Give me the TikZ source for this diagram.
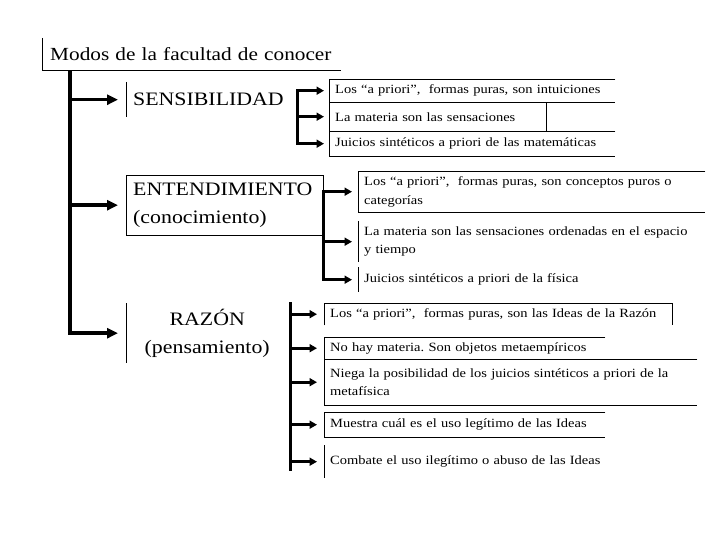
\documentclass[tikz,border=0pt]{standalone}
\usepackage{fontspec}
\setmainfont{Liberation Serif}[FakeStretch=1.15]
\usepackage{tikz}
\usetikzlibrary{calc,positioning,arrows.meta}
\frenchspacing

\tikzset{
  caja/.style={anchor=north west, inner xsep=6pt, inner ysep=0pt, align=left, font=\fontsize{12.6}{18.5}\selectfont},
  grande/.style={anchor=north west, inner xsep=7pt, inner ysep=0pt, font=\fontsize{19}{28}\selectfont},
  borde/.style={line width=0.8pt},
  tronco/.style={line width=3.6pt, -{Triangle[length=11pt,width=10pt]}, shorten >=8pt},
  flecha/.style={line width=2.8pt, -{Triangle[length=7.5pt,width=8pt]}},
  barra/.style={line width=3pt, line cap=rect},
}

\begin{document}
\begin{tikzpicture}[x=1pt,y=-1pt]
\useasboundingbox (0,0) rectangle (720,540);

% Title
\node[grande, inner xsep=8pt, align=left, text width=283pt, minimum height=32pt, font=\fontsize{18.5}{22}\selectfont] (titulo) at (42,38) {Modos de la facultad de conocer};
\draw[borde] (titulo.north west) -- (titulo.south west) -- (titulo.south east);

% Three faculties
\node[grande, align=left, text width=165pt, minimum height=35pt] (sens) at (126,82) {SENSIBILIDAD};
\node[grande, align=left, text width=183pt, minimum height=60pt] (ent) at (126,175) {ENTENDIMIENTO\\(conocimiento)};
\node[grande, align=center, text width=148pt, minimum height=60pt] (raz) at (126,303) {RAZÓN\\(pensamiento)};
\draw[borde] (sens.north west) -- (sens.south west);
\draw[borde] (ent.north west) rectangle (ent.south east);
\draw[borde] (raz.north west) -- (raz.south west);

% Main trunk
\coordinate (raiz) at ([xshift=28pt]titulo.south west);
\draw[tronco] (raiz) |- (raz.west);
\draw[tronco] (raiz |- sens.west) -- (sens.west);
\draw[tronco] (raiz |- ent.west) -- (ent.west);

% SENSIBILIDAD
\node[caja, text width=274pt, minimum height=23pt] (s1) at (329,79) {Los “a priori”, \ formas puras, son intuiciones};
\node[caja, text width=205pt, minimum height=29pt] (s2) at (329,102) {La materia son las sensaciones};
\node[caja, text width=274pt, minimum height=25pt] (s3) at (329,131) {Juicios sintéticos a priori de las matemáticas};

% ENTENDIMIENTO
\node[caja, text width=335pt, minimum height=41pt] (e1) at (358,171) {Los “a priori”, \ formas puras, son conceptos puros o\\categorías};
\node[caja, text width=335pt, minimum height=41pt] (e2) at (358,221) {La materia son las sensaciones ordenadas en el espacio\\y tiempo};
\node[caja, text width=250pt, minimum height=25pt] (e3) at (358,267) {Juicios sintéticos a priori de la física};

% RAZON
\node[caja, text width=336pt, minimum height=22pt] (r1) at (324,303) {Los “a priori”, \ formas puras, son las Ideas de la Razón};
\node[caja, text width=269pt, minimum height=22pt] (r2) at (324,337) {No hay materia. Son objetos metaempíricos};
\node[caja, text width=361pt, minimum height=46pt] (r3) at (324,359) {Niega la posibilidad de los juicios sintéticos a priori de la\\metafísica};
\node[caja, text width=269pt, minimum height=25pt] (r4) at (324,412) {Muestra cuál es el uso legítimo de las Ideas};
\node[caja, text width=275pt, minimum height=33pt] (r5) at (324,445) {Combate el uso ilegítimo o abuso de las Ideas};

% open borders of the boxes
\foreach \n in {s1,s3,e1,r2,r3,r4} {
    \draw[borde] (\n.north east) -- (\n.north west) -- (\n.south west) -- (\n.south east);
}
\foreach \n in {s2,r1} {
    \draw[borde] (\n.south west) -- (\n.north west) -- (\n.north east) -- (\n.south east);
}
\foreach \n in {e2,e3,r5} {
    \draw[borde] (\n.north west) -- (\n.south west);
}

% brackets
\coordinate (cs) at (297,0);
\coordinate (cr) at (290,0);
\draw[barra] (cs |- s1.west) -- (cs |- s3.west);
\draw[barra] (ent.east |- e1.west) -- (ent.east |- e3.west);
\draw[barra] (cr |- r1.north) -- ([yshift=-8pt]cr |- r5.west);
\foreach \n in {s1,s2,s3} {
    \draw[flecha, shorten >=5pt] (cs |- \n.west) -- (\n.west);
}
\foreach \n in {e1,e2,e3} {
    \draw[flecha, shorten >=6pt] (ent.east |- \n.west) -- (\n.west);
}
\foreach \n in {r1,r2,r3,r4,r5} {
    \draw[flecha, shorten >=7pt] (cr |- \n.west) -- (\n.west);
}
\end{tikzpicture}
\end{document}
